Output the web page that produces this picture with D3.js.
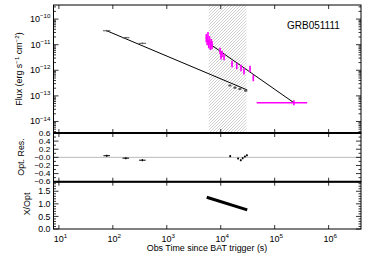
<!DOCTYPE html>
<html>
<head>
<meta charset="utf-8">
<script src="https://cdn.jsdelivr.net/npm/d3@7"></script>
<style>
  body { margin: 0; background: #fff; }
  text { font-family: "Liberation Sans", Arial, sans-serif; fill: #000; }
</style>
</head>
<body>
<svg class="chart" width="374" height="267"></svg>
<script>
// optical light curve
var optT = [77, 174, 353];
var optF = [3.5e-11, 1.87e-11, 1.13e-11];
var optLateT = [14800, 18400, 22700, 29000];
var optLateF = [2.54e-13, 2.1e-13, 1.85e-13, 1.6e-13];
var optFitT = [77, 31000];
var optFitF = [3.5e-11, 1.7e-13];

// X-ray light curve
var xT = [5400, 5600, 5800, 6000, 6200, 6400, 6650, 6900, 9700, 10100, 10570, 11500, 16200, 19800, 23800, 27000, 34900, 40200, 227000];
var xF = [1.82e-11, 1.39e-11, 2.18e-11, 1.06e-11, 1.52e-11, 8.9e-12, 1.16e-11, 9.7e-12, 5.66e-12, 3.6e-12, 4.32e-12, 3.3e-12, 1.76e-12, 1.47e-12, 1.23e-12, 9.3e-13, 1.12e-12, 5.0e-13, 5.4e-14];
var xFitT = [5820, 227000];
var xFitF = [1.19e-11, 5.4e-14];
var xLastTLo = 46400, xLastTHi = 400000;

// optical residuals
var resT = [77, 174, 353, 15000, 21000, 23500, 25500, 28000, 30500];
var resV = [0.04, -0.02, -0.07, 0.03, -0.03, -0.07, -0.02, 0.02, 0.05];

// X/Opt ratio
var ratioT = [5500, 31000];
var ratioV = [1.26, 0.76];

// shaded interval
var shadeT = [6000, 30000];

var xTickExp = [1, 2, 3, 4, 5, 6];
var fluxTickExp = [-10, -11, -12, -13, -14];
var resTicks = [0.6, 0.4, 0.2, 0, -0.2, -0.4, -0.6];
var resLabels = ["0.6", "0.4", "0.2", "\u22120.0", "\u22120.2", "\u22120.4", "\u22120.6"];
var ratioTicks = [0, 0.5, 1.0, 1.5];
var ratioLabels = ["0.0", "0.5", "1.0", "1.5"];

var svg = d3.select(".chart");
var left = 53.5, right = 361;
var p1 = [5, 133], p2 = [133, 181.7], p3 = [181.7, 229];

var xScale = d3.scaleLog().domain([Math.pow(10, 0.9), Math.pow(10, 6.6)]).range([left, right]);
var yFlux = d3.scaleLog().domain([Math.pow(10, -14.45), Math.pow(10, -9.45)]).range([p1[1], p1[0]]);
var yRes = d3.scaleLinear().domain([-0.6, 0.6]).range([p2[1], p2[0]]);
var yRat = d3.scaleLinear().domain([0, 1.88]).range([p3[1], p3[0]]);

var defs = svg.append("defs");
var pat = defs.append("pattern").attr("id", "hatch").attr("patternUnits", "userSpaceOnUse")
    .attr("width", 3).attr("height", 3);
pat.append("path").attr("d", "M-1,1 l2,-2 M0,3 l3,-3 M2,4 l2,-2")
    .attr("stroke", "#a8a8a8").attr("stroke-width", 0.55);
defs.append("clipPath").attr("id", "clip1").append("rect")
    .attr("x", left).attr("y", p1[0]).attr("width", right - left).attr("height", p1[1] - p1[0]);

// hatched region
svg.append("rect")
    .attr("x", xScale(shadeT[0])).attr("y", p1[0])
    .attr("width", xScale(shadeT[1]) - xScale(shadeT[0]))
    .attr("height", p1[1] - p1[0])
    .attr("fill", "url(#hatch)");

// ---------- top panel ----------
var g1 = svg.append("g").attr("clip-path", "url(#clip1)");
var line = d3.line().x(function(d) { return xScale(d[0]); }).y(function(d) { return yFlux(d[1]); });

g1.append("path").datum(optFitT.map(function(t, i) { return [t, optFitF[i]]; }))
    .attr("d", line).attr("fill", "none").attr("stroke", "#000").attr("stroke-width", 1);
g1.append("path").datum(xFitT.map(function(t, i) { return [t, xFitF[i]]; }))
    .attr("d", line).attr("fill", "none").attr("stroke", "#000").attr("stroke-width", 1);

// optical points
optT.forEach(function(t, i) {
    var cx = xScale(t), cy = yFlux(optF[i]);
    g1.append("line").attr("x1", xScale(t * 0.85)).attr("x2", xScale(t * 1.17))
        .attr("y1", cy).attr("y2", cy).attr("stroke", "#555").attr("stroke-width", 1);
    g1.append("line").attr("x1", cx).attr("x2", cx)
        .attr("y1", yFlux(optF[i] * 1.08)).attr("y2", yFlux(optF[i] / 1.08)).attr("stroke", "#555");
});
optLateT.forEach(function(t, i) {
    var cx = xScale(t), cy = yFlux(optLateF[i]);
    g1.append("line").attr("x1", xScale(t * 0.93)).attr("x2", xScale(t * 1.07))
        .attr("y1", cy).attr("y2", cy).attr("stroke", "#666").attr("stroke-width", 1.6);
    g1.append("circle").attr("cx", cx).attr("cy", cy).attr("r", 1.1).attr("fill", "#555");
});

// X-ray points
xT.forEach(function(t, i) {
    var cx = xScale(t), cy = yFlux(xF[i]);
    var last = i === xT.length - 1;
    var err = last ? 1.25 : (t < 8000 ? 1.45 : 1.35);
    g1.append("line").attr("x1", cx).attr("x2", cx)
        .attr("y1", yFlux(xF[i] * err)).attr("y2", yFlux(xF[i] / err))
        .attr("stroke", "#ff00ff").attr("stroke-width", 1.6);
    var tLo = last ? xLastTLo : t * 0.97, tHi = last ? xLastTHi : t * 1.03;
    g1.append("line").attr("x1", xScale(tLo)).attr("x2", xScale(tHi))
        .attr("y1", cy).attr("y2", cy)
        .attr("stroke", "#ff00ff").attr("stroke-width", last ? 1.4 : 1.2);
});

// ---------- residual panel ----------
svg.append("line").attr("x1", left).attr("x2", right)
    .attr("y1", yRes(0)).attr("y2", yRes(0)).attr("stroke", "#aaa").attr("stroke-width", 0.8);
resT.forEach(function(t, i) {
    var cx = xScale(t), cy = yRes(resV[i]);
    var f = t < 1000 ? 1.15 : 1.04;
    svg.append("line").attr("x1", xScale(t / f)).attr("x2", xScale(t * f))
        .attr("y1", cy).attr("y2", cy).attr("stroke", "#000").attr("stroke-width", 1);
    svg.append("line").attr("x1", cx).attr("x2", cx)
        .attr("y1", yRes(resV[i] + 0.025)).attr("y2", yRes(resV[i] - 0.025))
        .attr("stroke", "#000").attr("stroke-width", 1.3);
});

// ---------- ratio panel ----------
svg.append("path").datum(ratioT.map(function(t, i) { return [t, ratioV[i]]; }))
    .attr("d", d3.line().x(function(d) { return xScale(d[0]); }).y(function(d) { return yRat(d[1]); }))
    .attr("fill", "none").attr("stroke", "#000").attr("stroke-width", 3);

// ---------- frames and ticks ----------
function frame(y0, y1) {
    svg.append("rect").attr("x", left).attr("y", y0).attr("width", right - left).attr("height", y1 - y0)
        .attr("fill", "none").attr("stroke", "#000").attr("stroke-width", 1);
}
frame(p1[0], p1[1]); frame(p2[0], p2[1]); frame(p3[0], p3[1]);
[p1[1], p2[1]].forEach(function(y) {
    svg.append("line").attr("x1", left).attr("x2", right).attr("y1", y).attr("y2", y)
        .attr("stroke", "#000").attr("stroke-width", 2);
});

function yTick(y, len) {
    svg.append("line").attr("x1", left).attr("x2", left + len).attr("y1", y).attr("y2", y)
        .attr("stroke", "#000").attr("stroke-width", 0.8);
    svg.append("line").attr("x1", right).attr("x2", right - len).attr("y1", y).attr("y2", y)
        .attr("stroke", "#000").attr("stroke-width", 0.8);
}

// flux ticks
for (var e = -15; e <= -9; e++) {
    for (var m = 1; m <= 9; m++) {
        var y = yFlux(m * Math.pow(10, e));
        if (y < p1[0] || y > p1[1]) continue;
        yTick(y, m === 1 ? 5 : 2.5);
    }
}
fluxTickExp.forEach(function(e) {
    var t = svg.append("text").attr("x", left - 3).attr("y", yFlux(Math.pow(10, e)) + 3)
        .attr("text-anchor", "end").style("font-size", "9px");
    t.append("tspan").text("10");
    t.append("tspan").attr("dy", -3.8).style("font-size", "6.2px").text("\u2212" + (-e));
});

// residual ticks (labels packed tightly, as in the original)
for (var r = -6; r <= 6; r++) yTick(yRes(r / 10), r % 2 === 0 ? 5 : 2.5);
resTicks.forEach(function(v, i) {
    svg.append("text").attr("x", left - 3).attr("y", yRes(v) + 2.6)
        .attr("text-anchor", "end").style("font-size", "7px")
        .attr("transform", "translate(" + (left - 3) + ",0) scale(1.2,1) translate(" + (-(left - 3)) + ",0)")
        .text(resLabels[i]);
});

// ratio ticks
for (var q = 0; q <= 18; q++) yTick(yRat(q / 10), q % 5 === 0 ? 5 : 2.5);
ratioTicks.forEach(function(v, i) {
    svg.append("text").attr("x", left - 3).attr("y", yRat(v) + 3.2)
        .attr("text-anchor", "end").style("font-size", "8.8px").text(ratioLabels[i]);
});

// x ticks on every horizontal border
[p1[0], p1[1], p2[1], p3[1]].forEach(function(y, k) {
    xTickExp.forEach(function(e) {
        var x = xScale(Math.pow(10, e));
        svg.append("line").attr("x1", x).attr("x2", x).attr("y1", y).attr("y2", y + (k === 0 ? 4 : -4))
            .attr("stroke", "#000").attr("stroke-width", 0.8);
        if (k === 1 || k === 2) {
            svg.append("line").attr("x1", x).attr("x2", x).attr("y1", y).attr("y2", y + 4)
                .attr("stroke", "#000").attr("stroke-width", 0.8);
        }
    });
});
xTickExp.forEach(function(e) {
    var t = svg.append("text").attr("x", xScale(Math.pow(10, e)) + 1.5).attr("y", p3[1] + 12.5)
        .attr("text-anchor", "middle").style("font-size", "9px");
    t.append("tspan").text("10");
    t.append("tspan").attr("dy", -3.8).style("font-size", "6.2px").text(e);
});

// axis titles
svg.append("text").attr("x", 207).attr("y", 251).attr("text-anchor", "middle")
    .style("font-size", "8.9px").text("Obs Time since BAT trigger (s)");
var ft = svg.append("text").attr("transform", "translate(22,69) rotate(-90)")
    .attr("text-anchor", "middle").style("font-size", "8.9px");
ft.append("tspan").text("Flux (erg s");
ft.append("tspan").attr("dy", -3.3).style("font-size", "6.2px").text("\u22121");
ft.append("tspan").attr("dy", 3.3).text(" cm");
ft.append("tspan").attr("dy", -3.3).style("font-size", "6.2px").text("\u22122");
ft.append("tspan").attr("dy", 3.3).text(")");
svg.append("text").attr("transform", "translate(24,157) rotate(-90)")
    .attr("text-anchor", "middle").style("font-size", "8.9px").text("Opt. Res.");
svg.append("text").attr("transform", "translate(30,204) rotate(-90)")
    .attr("text-anchor", "middle").style("font-size", "8.9px").text("X/Opt");

svg.append("text").attr("x", 287).attr("y", 29).style("font-size", "10px").text("GRB051111");
</script>
</body>
</html>
